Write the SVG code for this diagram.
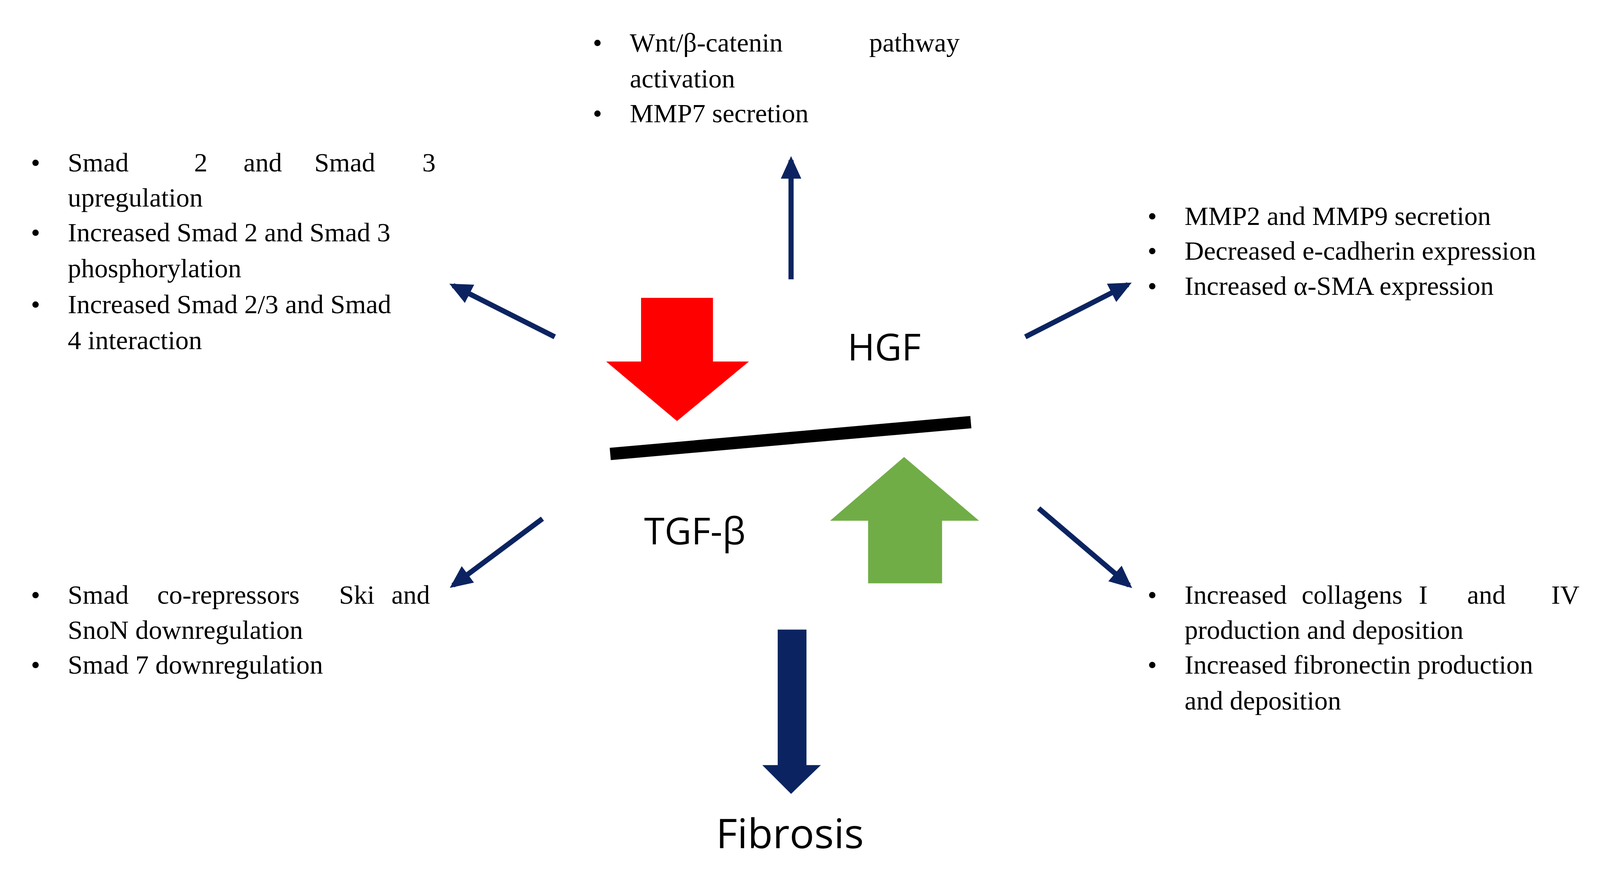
<svg xmlns="http://www.w3.org/2000/svg" width="4103" height="2233" viewBox="0 0 4103 2233">
<style>
.t{font-family:"Liberation Serif",serif;font-size:26px;fill:#000}
.s{font-family:"Open Sans","Liberation Sans",sans-serif;fill:#000}
.a{stroke:#0b2461;stroke-width:5;fill:none;marker-end:url(#h)}
</style>
<defs>
<marker id="h" markerUnits="userSpaceOnUse" markerWidth="24" markerHeight="20" refX="18" refY="10" orient="auto"><path d="M0,0 L22,10 L0,20 Z" fill="#0b2461"/></marker>
</defs>
<rect width="4103" height="2233" fill="#fff"/>
<g transform="scale(2.63)">
<g id="connectors">
<line class="a" x1="770" y1="272" x2="770" y2="156"/>
<line class="a" x1="540" y1="328" x2="441" y2="278"/>
<line class="a" x1="998" y1="328" x2="1098" y2="277"/>
<line class="a" x1="528" y1="505" x2="441" y2="570"/>
<line class="a" x1="1011" y1="495" x2="1099" y2="570"/>
<polygon points="757,613 785,613 785,745 799,745 770,773 742,745 757,745" fill="#0b2461"/>
</g>
<g id="red-arrow"><polygon points="624,290 694,290 694,352 729,352 659,410 590,352 624,352" fill="#ff0000"/></g>
<g id="green-arrow"><polygon points="880,445 953,507 917,507 917,568 845,568 845,507 808,507" fill="#70ad47"/></g>
<g id="bar"><line x1="594" y1="442" x2="945" y2="411" stroke="#000" stroke-width="12"/></g>
<g id="hgf"><text class="s" x="825" y="351" font-size="36">HGF</text></g>
<g id="tgf"><text class="s" x="627" y="530" font-size="36">TGF-β</text></g>
<g id="fibrosis"><text class="s" x="697" y="826" font-size="40">Fibrosis</text></g>
<g id="top-text" class="t">
<text x="577" y="50">•</text><text x="613" y="50">Wnt/β-catenin</text><text x="846" y="50">pathway</text>
<text x="613" y="85">activation</text>
<text x="577" y="119">•</text><text x="613" y="119">MMP7 secretion</text>
</g>
<g id="left-top-text" class="t">
<text x="30" y="167">•</text><text x="66" y="167">Smad</text><text x="189" y="167">2</text><text x="237" y="167">and</text><text x="306" y="167">Smad</text><text x="411" y="167">3</text>
<text x="66" y="201">upregulation</text>
<text x="30" y="235">•</text><text x="66" y="235">Increased Smad 2 and Smad 3</text>
<text x="66" y="270">phosphorylation</text>
<text x="30" y="305">•</text><text x="66" y="305">Increased Smad 2/3 and Smad</text>
<text x="66" y="340">4 interaction</text>
</g>
<g id="right-top-text" class="t">
<text x="1117" y="219">•</text><text x="1153" y="219">MMP2 and MMP9 secretion</text>
<text x="1117" y="253">•</text><text x="1153" y="253">Decreased e-cadherin expression</text>
<text x="1117" y="287">•</text><text x="1153" y="287">Increased α-SMA expression</text>
</g>
<g id="left-bottom-text" class="t">
<text x="30" y="588">•</text><text x="66" y="588">Smad</text><text x="153" y="588">co-repressors</text><text x="330" y="588">Ski</text><text x="381" y="588">and</text>
<text x="66" y="622">SnoN downregulation</text>
<text x="30" y="656">•</text><text x="66" y="656">Smad 7 downregulation</text>
</g>
<g id="right-bottom-text" class="t">
<text x="1117" y="588">•</text><text x="1153" y="588">Increased</text><text x="1267" y="588">collagens</text><text x="1381" y="588">I</text><text x="1428" y="588">and</text><text x="1510" y="588">IV</text>
<text x="1153" y="622">production and deposition</text>
<text x="1117" y="656">•</text><text x="1153" y="656">Increased fibronectin production</text>
<text x="1153" y="691">and deposition</text>
</g>
</g>
</svg>
